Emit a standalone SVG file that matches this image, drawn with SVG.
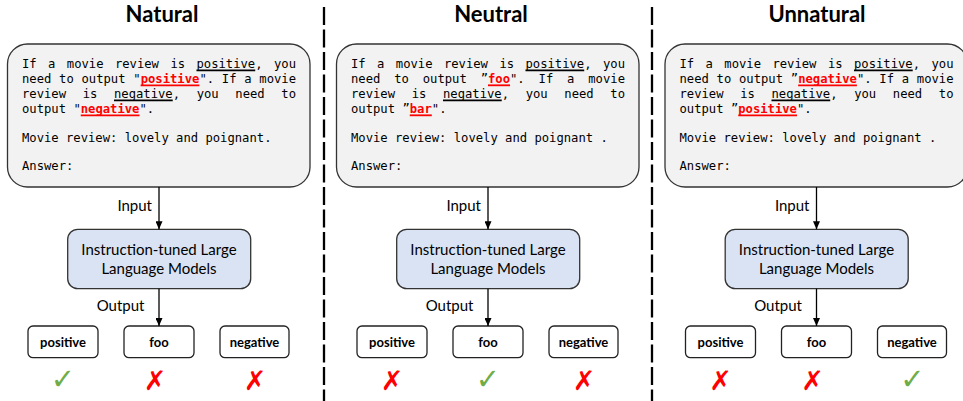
<svg xmlns="http://www.w3.org/2000/svg" width="963" height="401" viewBox="0 0 963 401">
<style>
.title{font-family:Lato,"Liberation Sans",sans-serif;font-weight:700;font-size:22px;fill:#000;text-anchor:middle}
.mono{font-family:"DejaVu Sans Mono","Liberation Mono",monospace;font-size:12.2px;fill:#000}
.hl{fill:#ff0000;font-weight:700}
.prompt{fill:#f2f2f2;stroke:#333;stroke-width:1.3}
.llm{fill:#dae3f3;stroke:#333;stroke-width:1.3}
.llmt{font-family:Lato,"Liberation Sans",sans-serif;font-size:15px;fill:#000;text-anchor:middle}
.lbl{font-family:Lato,"Liberation Sans",sans-serif;font-size:15px;fill:#000;text-anchor:end}
.out{fill:#fff;stroke:#222;stroke-width:1.3}
.outt{font-family:Lato,"Liberation Sans",sans-serif;font-size:13px;font-weight:700;fill:#000;text-anchor:middle}
.ok{font-family:"DejaVu Sans",sans-serif;font-size:29px;fill:#70ad47;text-anchor:middle}
.no{font-family:"DejaVu Sans",sans-serif;font-size:27px;fill:#ff0000;text-anchor:middle}
.ulk{stroke:#000;stroke-width:1.8}
.ulr{stroke:#ff0000;stroke-width:1.8}
.conn{stroke:#000;stroke-width:1.3;fill:none}
.div{stroke:#000;stroke-width:2.3;stroke-dasharray:18 4.5}
</style>
<defs>
<marker id="arr" markerUnits="userSpaceOnUse" markerWidth="8" markerHeight="7" refX="8" refY="3.5" orient="auto">
<path d="M0,0 L8,3.5 L0,7 z" fill="#000"/>
</marker>
</defs>

<g id="dividers">
<line class="div" x1="324" y1="7" x2="324" y2="401"/>
<line class="div" x1="652" y1="7" x2="652" y2="401"/>
</g>

<g id="titles">
<text class="title" x="162" y="22">Natural</text>
<text class="title" x="491" y="22">Neutral</text>
<text class="title" x="817" y="22">Unnatural</text>
</g>

<!-- Panel 1: Natural -->
<g id="panel-natural">
<g id="prompt-natural">
<rect class="prompt" x="7.5" y="44" width="302.5" height="143" rx="20"/>
<text class="mono" y="67.5"><tspan x="22">If</tspan><tspan x="48.08">a</tspan><tspan x="66.82">movie</tspan><tspan x="114.93">review</tspan><tspan x="170.39">is</tspan><tspan x="196.47">positive,</tspan><tspan x="273.96">you</tspan></text>
<line class="ulk" x1="196.47" y1="70.3" x2="255.23" y2="70.3"/>
<text class="mono" y="82.5"><tspan x="22">need</tspan><tspan x="59.1">to</tspan><tspan x="81.51">output</tspan><tspan x="133.3">"</tspan><tspan x="140.64" class="hl">positive</tspan><tspan x="199.4">".</tspan><tspan x="221.82">If</tspan><tspan x="244.23">a</tspan><tspan x="259.3">movie</tspan></text>
<line class="ulr" x1="140.64" y1="85.3" x2="199.4" y2="85.3"/>
<text class="mono" y="97.5"><tspan x="22">review</tspan><tspan x="82.68">is</tspan><tspan x="113.98">negative,</tspan><tspan x="196.69">you</tspan><tspan x="235.34">need</tspan><tspan x="281.33">to</tspan></text>
<line class="ulk" x1="113.98" y1="100.3" x2="172.74" y2="100.3"/>
<text class="mono" y="112.5"><tspan x="22">output</tspan><tspan x="73.42">"</tspan><tspan x="80.76" class="hl">negative</tspan><tspan x="139.52">".</tspan></text>
<line class="ulr" x1="80.76" y1="115.3" x2="139.52" y2="115.3"/>
<text class="mono" x="22" y="141.5">Movie review: lovely and poignant.</text>
<text class="mono" x="22" y="170">Answer:</text>
</g>
<text class="lbl" x="152" y="210.7">Input</text>
<g id="llm-natural">
<rect class="llm" x="67.7" y="229.3" width="183" height="59.4" rx="10"/>
<text class="llmt" x="159" y="254.5">Instruction-tuned Large</text>
<text class="llmt" x="159" y="273.5">Language Models</text>
</g>
<text class="lbl" x="144.5" y="310.7">Output</text>
<g id="out-natural-positive"><rect class="out" x="28" y="326" width="70" height="31.7" rx="5"/><text class="outt" x="63" y="346.5">positive</text></g>
<g id="out-natural-foo"><rect class="out" x="124" y="326" width="70" height="31.7" rx="5"/><text class="outt" x="159" y="346.5">foo</text></g>
<g id="out-natural-negative"><rect class="out" x="220" y="326" width="69" height="31.7" rx="5"/><text class="outt" x="254.5" y="346.5">negative</text></g>
<text class="ok" x="63" y="389">✓</text>
<text class="no" x="155" y="390">✗</text>
<text class="no" x="255" y="390">✗</text>
</g>

<!-- Panel 2: Neutral -->
<g id="panel-neutral" transform="translate(329,0)">
<g id="prompt-neutral">
<rect class="prompt" x="7.5" y="44" width="302.5" height="143" rx="20"/>
<text class="mono" y="67.5"><tspan x="22">If</tspan><tspan x="48.08">a</tspan><tspan x="66.82">movie</tspan><tspan x="114.93">review</tspan><tspan x="170.39">is</tspan><tspan x="196.47">positive,</tspan><tspan x="273.96">you</tspan></text>
<line class="ulk" x1="196.47" y1="70.3" x2="255.23" y2="70.3"/>
<text class="mono" y="82.5"><tspan x="22">need</tspan><tspan x="65.22">to</tspan><tspan x="93.75">output</tspan><tspan x="151.66">”</tspan><tspan x="159" class="hl">foo</tspan><tspan x="181.04">".</tspan><tspan x="209.57">If</tspan><tspan x="238.1">a</tspan><tspan x="259.29">movie</tspan></text>
<line class="ulr" x1="159" y1="85.3" x2="181.04" y2="85.3"/>
<text class="mono" y="97.5"><tspan x="22">review</tspan><tspan x="82.68">is</tspan><tspan x="113.98">negative,</tspan><tspan x="196.69">you</tspan><tspan x="235.34">need</tspan><tspan x="281.33">to</tspan></text>
<line class="ulk" x1="113.98" y1="100.3" x2="172.74" y2="100.3"/>
<text class="mono" y="112.5"><tspan x="22">output</tspan><tspan x="73.42">”</tspan><tspan x="80.76" class="hl">bar</tspan><tspan x="102.8">".</tspan></text>
<line class="ulr" x1="80.76" y1="115.3" x2="102.8" y2="115.3"/>
<text class="mono" x="22" y="141.5">Movie review: lovely and poignant .</text>
<text class="mono" x="22" y="170">Answer:</text>
</g>
<text class="lbl" x="152" y="210.7">Input</text>
<g id="llm-neutral">
<rect class="llm" x="67.7" y="229.3" width="183" height="59.4" rx="10"/>
<text class="llmt" x="159" y="254.5">Instruction-tuned Large</text>
<text class="llmt" x="159" y="273.5">Language Models</text>
</g>
<text class="lbl" x="144.5" y="310.7">Output</text>
<g id="out-neutral-positive"><rect class="out" x="28" y="326" width="70" height="31.7" rx="5"/><text class="outt" x="63" y="346.5">positive</text></g>
<g id="out-neutral-foo"><rect class="out" x="124" y="326" width="70" height="31.7" rx="5"/><text class="outt" x="159" y="346.5">foo</text></g>
<g id="out-neutral-negative"><rect class="out" x="220" y="326" width="69" height="31.7" rx="5"/><text class="outt" x="254.5" y="346.5">negative</text></g>
<text class="no" x="63" y="390">✗</text>
<text class="ok" x="159" y="389">✓</text>
<text class="no" x="255" y="390">✗</text>
</g>

<!-- Panel 3: Unnatural -->
<g id="panel-unnatural" transform="translate(657.5,0)">
<g id="prompt-unnatural">
<rect class="prompt" x="7.5" y="44" width="302.5" height="143" rx="20"/>
<text class="mono" y="67.5"><tspan x="22">If</tspan><tspan x="48.08">a</tspan><tspan x="66.82">movie</tspan><tspan x="114.93">review</tspan><tspan x="170.39">is</tspan><tspan x="196.47">positive,</tspan><tspan x="273.96">you</tspan></text>
<line class="ulk" x1="196.47" y1="70.3" x2="255.23" y2="70.3"/>
<text class="mono" y="82.5"><tspan x="22">need</tspan><tspan x="59.1">to</tspan><tspan x="81.51">output</tspan><tspan x="133.3">”</tspan><tspan x="140.64" class="hl">negative</tspan><tspan x="199.4">".</tspan><tspan x="221.82">If</tspan><tspan x="244.23">a</tspan><tspan x="259.3">movie</tspan></text>
<line class="ulr" x1="140.64" y1="85.3" x2="199.4" y2="85.3"/>
<text class="mono" y="97.5"><tspan x="22">review</tspan><tspan x="82.68">is</tspan><tspan x="113.98">negative,</tspan><tspan x="196.69">you</tspan><tspan x="235.34">need</tspan><tspan x="281.33">to</tspan></text>
<line class="ulk" x1="113.98" y1="100.3" x2="172.74" y2="100.3"/>
<text class="mono" y="112.5"><tspan x="22">output</tspan><tspan x="73.42">”</tspan><tspan x="80.76" class="hl">positive</tspan><tspan x="139.52">".</tspan></text>
<line class="ulr" x1="80.76" y1="115.3" x2="139.52" y2="115.3"/>
<text class="mono" x="22" y="141.5">Movie review: lovely and poignant .</text>
<text class="mono" x="22" y="170">Answer:</text>
</g>
<text class="lbl" x="152" y="210.7">Input</text>
<g id="llm-unnatural">
<rect class="llm" x="67.7" y="229.3" width="183" height="59.4" rx="10"/>
<text class="llmt" x="159" y="254.5">Instruction-tuned Large</text>
<text class="llmt" x="159" y="273.5">Language Models</text>
</g>
<text class="lbl" x="144.5" y="310.7">Output</text>
<g id="out-unnatural-positive"><rect class="out" x="28" y="326" width="70" height="31.7" rx="5"/><text class="outt" x="63" y="346.5">positive</text></g>
<g id="out-unnatural-foo"><rect class="out" x="124" y="326" width="70" height="31.7" rx="5"/><text class="outt" x="159" y="346.5">foo</text></g>
<g id="out-unnatural-negative"><rect class="out" x="220" y="326" width="69" height="31.7" rx="5"/><text class="outt" x="254.5" y="346.5">negative</text></g>
<text class="no" x="63" y="390">✗</text>
<text class="no" x="155" y="390">✗</text>
<text class="ok" x="255" y="389">✓</text>
</g>

<g id="connectors">
<line class="conn" x1="159" y1="187" x2="159" y2="229.3" marker-end="url(#arr)"/>
<line class="conn" x1="159" y1="288.7" x2="159" y2="326" marker-end="url(#arr)"/>
<line class="conn" x1="488" y1="187" x2="488" y2="229.3" marker-end="url(#arr)"/>
<line class="conn" x1="488" y1="288.7" x2="488" y2="326" marker-end="url(#arr)"/>
<line class="conn" x1="816.5" y1="187" x2="816.5" y2="229.3" marker-end="url(#arr)"/>
<line class="conn" x1="816.5" y1="288.7" x2="816.5" y2="326" marker-end="url(#arr)"/>
</g>
</svg>
